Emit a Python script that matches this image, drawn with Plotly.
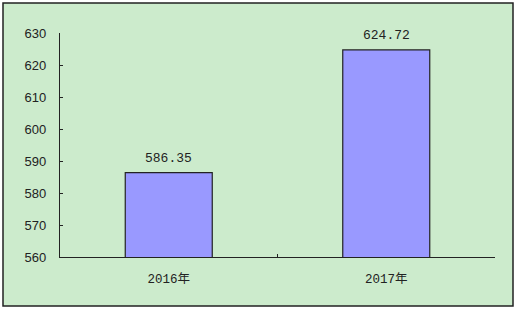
import plotly.graph_objects as go

categories = ["2016年", "2017年"]
values = [586.35, 624.72]
y_ticks = [560, 570, 580, 590, 600, 610, 620, 630]

GREEN = "#CCEBCC"
W, H = 517, 312
L, R, T, B = 60, 22, 33, 55
pw, ph = W - L - R, H - T - B

fig = go.Figure(go.Bar(
    x=categories, y=values,
    marker=dict(color="#9999FF", line=dict(color="#222222", width=1.2)),
    width=0.4,
))

for c, v in zip(categories, values):
    fig.add_annotation(x=c, y=v, text=f"{v:.2f}", showarrow=False,
                       yanchor="bottom", yshift=5,
                       font=dict(family="Liberation Mono, monospace", size=13, color="#222222"))

fig.add_shape(type="rect", xref="paper", yref="paper", layer="below",
              x0=(3 - L) / pw, x1=(513 - L) / pw,
              y0=(H - B - 306) / ph, y1=(H - B - 3) / ph,
              fillcolor=GREEN, line=dict(color="#222222", width=1.5))

fig.update_layout(
    width=W, height=H,
    margin=dict(l=L, r=R, t=T, b=B),
    paper_bgcolor="white", plot_bgcolor=GREEN,
    showlegend=False,
    font=dict(family="Liberation Sans, Arial", size=12, color="#222222"),
)
fig.update_yaxes(range=[560, 630], tickvals=y_ticks, ticks="inside", ticklen=3,
                 tickcolor="#222222", showline=True, linecolor="#222222", linewidth=1.2,
                 showgrid=False, zeroline=False, ticklabelstandoff=10,
                 tickfont=dict(family="Liberation Sans, Arial", size=13))
fig.update_xaxes(tickson="boundaries", ticks="inside", ticklen=3, tickcolor="#222222",
                 showline=True, linecolor="#222222", linewidth=1.2, showgrid=False,
                 ticklabelstandoff=10,
                 tickfont=dict(family="Liberation Mono, Noto Sans CJK SC", size=12.5))

fig.write_html("out.html")
